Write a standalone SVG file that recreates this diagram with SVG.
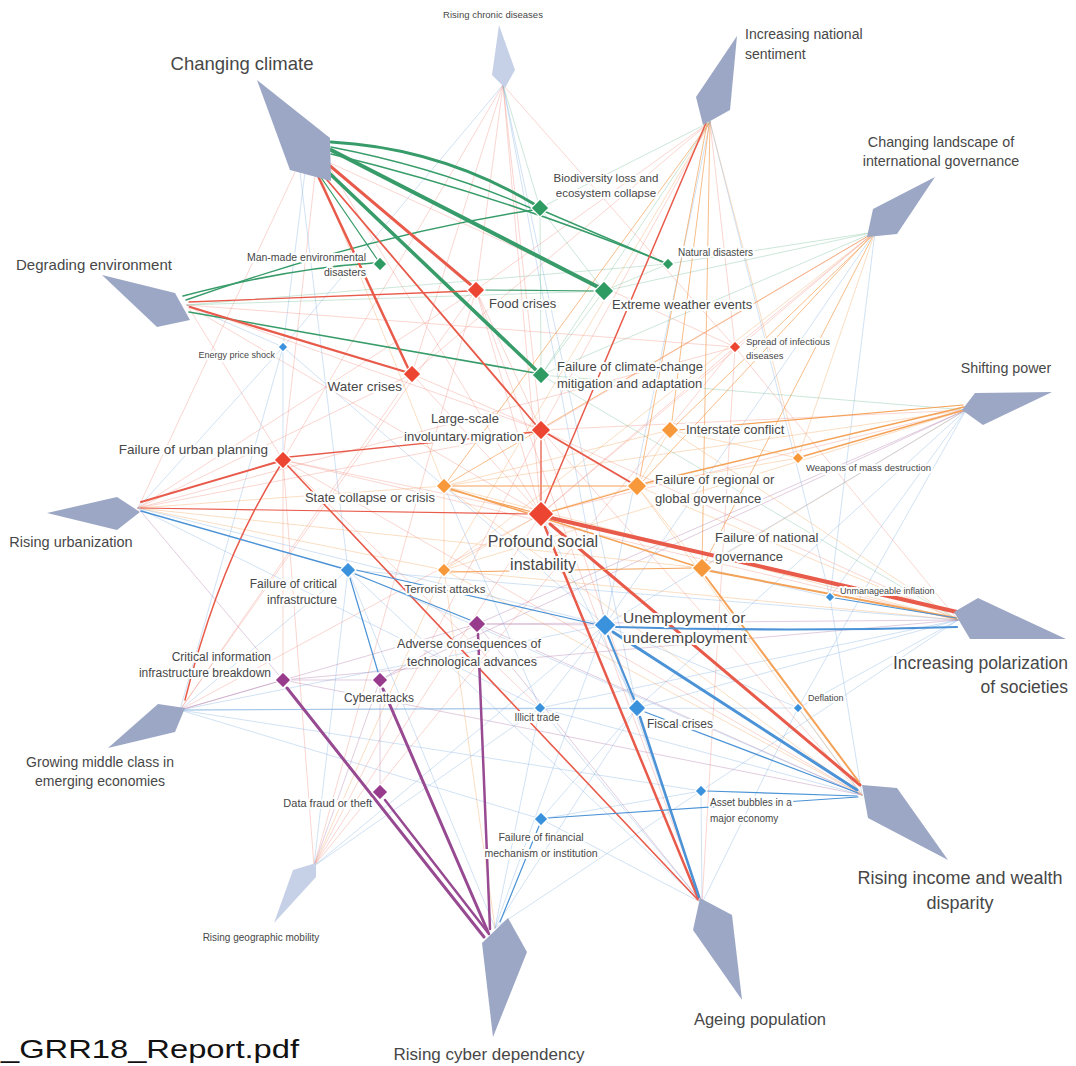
<svg xmlns="http://www.w3.org/2000/svg" width="1076" height="1066" viewBox="0 0 1076 1066">
<style>
text{font-family:"Liberation Sans",Arial,sans-serif;fill:#474747;paint-order:stroke;stroke:#fff;stroke-width:4px;stroke-linejoin:round}
.k{fill:#9ca7c5}.kl{fill:#c6d1e8}
.d{stroke:#fff;stroke-width:1.2}
.dg{fill:#2e9b63}.dr{fill:#ec4633}.do{fill:#f7983a}.db{fill:#3a91dc}.dp{fill:#983b8c}
#connectors line,#connectors path{fill:none;stroke-linecap:round}
.fr{stroke:#ef8677;stroke-width:.9;opacity:.38}
.fo{stroke:#f5a860;stroke-width:.9;opacity:.42}
.fb{stroke:#84b3e2;stroke-width:.9;opacity:.42}
.fg{stroke:#6ab98f;stroke-width:.9;opacity:.38}
.fp{stroke:#b07aaa;stroke-width:.9;opacity:.42}
.sr{stroke:#e85b4b}.so{stroke:#f4a258}.sb{stroke:#4b93d6}.sg{stroke:#379c69}.sp{stroke:#974a91}
.mo{stroke:#f4a258;stroke-width:1;opacity:.7}
.e{text-anchor:end}.m{text-anchor:middle}
</style>
<rect width="1076" height="1066" fill="#fff"/>
<g id="connectors">
<line class="fr" x1="328" y1="162" x2="735" y2="347"/>
<line class="fr" x1="328" y1="165" x2="541" y2="514"/>
<line class="fr" x1="315" y1="175" x2="283" y2="460"/>
<line class="fb" x1="305" y1="172" x2="283" y2="347"/>
<line class="fb" x1="300" y1="172" x2="348" y2="570"/>
<line class="fo" x1="320" y1="175" x2="444" y2="486"/>
<line class="fr" x1="295" y1="172" x2="138" y2="508"/>
<line class="fr" x1="503" y1="85" x2="476" y2="290"/>
<line class="fr" x1="503" y1="85" x2="412" y2="374"/>
<line class="fr" x1="503" y1="85" x2="541" y2="430"/>
<line class="fr" x1="503" y1="85" x2="541" y2="514"/>
<line class="fr" x1="503" y1="85" x2="735" y2="347"/>
<line class="fr" x1="503" y1="85" x2="283" y2="460"/>
<line class="fb" x1="503" y1="85" x2="605" y2="625"/>
<line class="fb" x1="503" y1="85" x2="637" y2="708"/>
<line class="fb" x1="503" y1="85" x2="283" y2="347"/>
<line class="fg" x1="503" y1="85" x2="540" y2="208"/>
<line class="mo" x1="710" y1="122" x2="444" y2="486"/>
<line class="fo" x1="710" y1="122" x2="444" y2="570"/>
<line class="mo" x1="710" y1="122" x2="702" y2="568"/>
<line class="fo" x1="710" y1="122" x2="798" y2="458"/>
<line class="fr" x1="710" y1="122" x2="541" y2="430"/>
<line class="fr" x1="710" y1="122" x2="735" y2="347"/>
<line class="fr" x1="710" y1="122" x2="476" y2="290"/>
<line class="fr" x1="710" y1="122" x2="412" y2="374"/>
<line class="fb" x1="710" y1="122" x2="605" y2="625"/>
<line class="fb" x1="710" y1="122" x2="830" y2="597"/>
<line class="fg" x1="710" y1="122" x2="541" y2="375"/>
<line class="fg" x1="710" y1="122" x2="540" y2="208"/>
<line class="mo" x1="875" y1="232" x2="702" y2="568"/>
<line class="fo" x1="875" y1="232" x2="798" y2="458"/>
<line class="mo" x1="875" y1="232" x2="444" y2="486"/>
<line class="fo" x1="875" y1="232" x2="444" y2="570"/>
<line class="fr" x1="875" y1="232" x2="735" y2="347"/>
<line class="fr" x1="875" y1="232" x2="541" y2="430"/>
<line class="fr" x1="875" y1="232" x2="541" y2="514"/>
<line class="fg" x1="875" y1="232" x2="604" y2="291"/>
<line class="fg" x1="875" y1="232" x2="541" y2="375"/>
<line class="fg" x1="875" y1="232" x2="668" y2="264"/>
<line class="fb" x1="875" y1="232" x2="605" y2="625"/>
<line class="fb" x1="875" y1="232" x2="830" y2="597"/>
<line class="fo" x1="966" y1="410" x2="702" y2="568"/>
<line class="fo" x1="966" y1="410" x2="444" y2="486"/>
<line class="fo" x1="966" y1="410" x2="444" y2="570"/>
<line class="fg" x1="966" y1="410" x2="541" y2="375"/>
<line class="fb" x1="966" y1="410" x2="830" y2="597"/>
<line class="fb" x1="966" y1="410" x2="605" y2="625"/>
<line class="fb" x1="966" y1="410" x2="798" y2="708"/>
<line class="fb" x1="966" y1="410" x2="637" y2="708"/>
<line class="fp" x1="966" y1="410" x2="477" y2="624"/>
<line class="fp" x1="966" y1="410" x2="380" y2="680"/>
<line class="fr" x1="966" y1="410" x2="541" y2="514"/>
<line class="fr" x1="966" y1="410" x2="541" y2="430"/>
<line class="fr" x1="958" y1="620" x2="541" y2="430"/>
<line class="fr" x1="958" y1="620" x2="283" y2="460"/>
<line class="fr" x1="958" y1="620" x2="735" y2="347"/>
<line class="fo" x1="958" y1="620" x2="444" y2="486"/>
<line class="fo" x1="958" y1="620" x2="637" y2="486"/>
<line class="fo" x1="958" y1="620" x2="444" y2="570"/>
<line class="fo" x1="958" y1="620" x2="670" y2="430"/>
<line class="fb" x1="958" y1="620" x2="637" y2="708"/>
<line class="fb" x1="958" y1="620" x2="798" y2="708"/>
<line class="fb" x1="958" y1="620" x2="540" y2="708"/>
<line class="fb" x1="958" y1="620" x2="348" y2="570"/>
<line class="fb" x1="958" y1="620" x2="701" y2="791"/>
<line class="fp" x1="958" y1="620" x2="477" y2="624"/>
<line class="fp" x1="958" y1="620" x2="283" y2="680"/>
<line class="fg" x1="958" y1="620" x2="541" y2="375"/>
<line class="fb" x1="862" y1="795" x2="798" y2="708"/>
<line class="fb" x1="862" y1="795" x2="540" y2="708"/>
<line class="fb" x1="862" y1="795" x2="830" y2="597"/>
<line class="fb" x1="862" y1="795" x2="348" y2="570"/>
<line class="fp" x1="862" y1="795" x2="477" y2="624"/>
<line class="fp" x1="862" y1="795" x2="283" y2="680"/>
<line class="fr" x1="862" y1="795" x2="541" y2="430"/>
<line class="fr" x1="862" y1="795" x2="283" y2="460"/>
<line class="fo" x1="862" y1="795" x2="444" y2="486"/>
<line class="fo" x1="862" y1="795" x2="444" y2="570"/>
<line class="fo" x1="862" y1="795" x2="637" y2="486"/>
<line class="fb" x1="702" y1="903" x2="605" y2="625"/>
<line class="fb" x1="702" y1="903" x2="701" y2="791"/>
<line class="fb" x1="702" y1="903" x2="541" y2="819"/>
<line class="fb" x1="702" y1="903" x2="798" y2="708"/>
<line class="fb" x1="702" y1="903" x2="540" y2="708"/>
<line class="fb" x1="702" y1="903" x2="348" y2="570"/>
<line class="fr" x1="702" y1="903" x2="735" y2="347"/>
<line class="fr" x1="702" y1="903" x2="541" y2="430"/>
<line class="fr" x1="702" y1="903" x2="476" y2="290"/>
<line class="fp" x1="702" y1="903" x2="477" y2="624"/>
<line class="fb" x1="495" y1="928" x2="348" y2="570"/>
<line class="fb" x1="495" y1="928" x2="540" y2="708"/>
<line class="fb" x1="495" y1="928" x2="605" y2="625"/>
<line class="fb" x1="495" y1="928" x2="701" y2="791"/>
<line class="fb" x1="495" y1="928" x2="637" y2="708"/>
<line class="fo" x1="495" y1="928" x2="444" y2="570"/>
<line class="fr" x1="314" y1="866" x2="541" y2="430"/>
<line class="fr" x1="314" y1="866" x2="735" y2="347"/>
<line class="fr" x1="314" y1="866" x2="541" y2="514"/>
<line class="fr" x1="314" y1="866" x2="283" y2="460"/>
<line class="fr" x1="314" y1="866" x2="476" y2="290"/>
<line class="fo" x1="314" y1="866" x2="444" y2="570"/>
<line class="fb" x1="314" y1="866" x2="540" y2="708"/>
<line class="fb" x1="314" y1="866" x2="348" y2="570"/>
<line class="fb" x1="314" y1="866" x2="605" y2="625"/>
<line class="fp" x1="314" y1="866" x2="380" y2="680"/>
<line class="fr" x1="180" y1="710" x2="412" y2="374"/>
<line class="fr" x1="180" y1="710" x2="541" y2="514"/>
<line class="fr" x1="180" y1="710" x2="476" y2="290"/>
<line class="fb" x1="180" y1="710" x2="348" y2="570"/>
<line class="fb" x1="180" y1="710" x2="605" y2="625"/>
<line class="fb" x1="180" y1="710" x2="637" y2="708"/>
<line class="fb" x1="180" y1="710" x2="701" y2="791"/>
<line class="fb" x1="180" y1="710" x2="540" y2="708"/>
<line class="fb" x1="180" y1="710" x2="798" y2="708"/>
<line class="fb" x1="180" y1="710" x2="541" y2="819"/>
<line class="fb" x1="180" y1="710" x2="283" y2="347"/>
<line class="fp" x1="180" y1="710" x2="283" y2="680"/>
<line class="fp" x1="180" y1="710" x2="477" y2="624"/>
<line class="fr" x1="138" y1="508" x2="412" y2="374"/>
<line class="fr" x1="138" y1="508" x2="476" y2="290"/>
<line class="fr" x1="138" y1="508" x2="541" y2="430"/>
<line class="fr" x1="138" y1="508" x2="735" y2="347"/>
<line class="fo" x1="138" y1="508" x2="444" y2="486"/>
<line class="fo" x1="138" y1="508" x2="444" y2="570"/>
<line class="fo" x1="138" y1="508" x2="702" y2="568"/>
<line class="fb" x1="138" y1="508" x2="283" y2="347"/>
<line class="fb" x1="138" y1="508" x2="605" y2="625"/>
<line class="fb" x1="138" y1="508" x2="540" y2="708"/>
<line class="fp" x1="138" y1="508" x2="283" y2="680"/>
<line class="fg" x1="187" y1="305" x2="604" y2="291"/>
<line class="fg" x1="187" y1="305" x2="668" y2="264"/>
<line class="fr" x1="187" y1="305" x2="541" y2="430"/>
<line class="fr" x1="187" y1="305" x2="541" y2="514"/>
<line class="fr" x1="187" y1="305" x2="283" y2="460"/>
<line class="fr" x1="187" y1="305" x2="735" y2="347"/>
<line class="fb" x1="187" y1="305" x2="283" y2="347"/>
<line class="fr" x1="412" y1="374" x2="541" y2="514"/>
<line class="fr" x1="476" y1="290" x2="541" y2="514"/>
<line class="fr" x1="412" y1="374" x2="541" y2="430"/>
<line class="fr" x1="476" y1="290" x2="541" y2="430"/>
<line class="fr" x1="735" y1="347" x2="541" y2="514"/>
<line class="fr" x1="283" y1="460" x2="541" y2="514"/>
<line class="fr" x1="283" y1="460" x2="283" y2="680"/>
<line class="fr" x1="283" y1="460" x2="540" y2="708"/>
<line class="fo" x1="670" y1="430" x2="637" y2="486"/>
<line class="fo" x1="670" y1="430" x2="444" y2="486"/>
<line class="fo" x1="444" y1="570" x2="444" y2="486"/>
<line class="fo" x1="798" y1="458" x2="670" y2="430"/>
<line class="fo" x1="798" y1="458" x2="637" y2="486"/>
<line class="fo" x1="702" y1="568" x2="637" y2="486"/>
<line class="fo" x1="444" y1="570" x2="541" y2="514"/>
<line class="fo" x1="637" y1="486" x2="541" y2="514"/>
<line class="fb" x1="283" y1="347" x2="283" y2="460"/>
<line class="fb" x1="283" y1="347" x2="605" y2="625"/>
<line class="fb" x1="637" y1="708" x2="541" y2="514"/>
<line class="fb" x1="541" y1="819" x2="637" y2="708"/>
<line class="fb" x1="701" y1="791" x2="541" y2="819"/>
<line class="fb" x1="540" y1="708" x2="605" y2="625"/>
<line class="fb" x1="830" y1="597" x2="702" y2="568"/>
<line class="fb" x1="798" y1="708" x2="605" y2="625"/>
<line class="fb" x1="540" y1="708" x2="444" y2="486"/>
<line class="fp" x1="380" y1="680" x2="283" y2="680"/>
<line class="fp" x1="380" y1="680" x2="380" y2="792"/>
<line class="fp" x1="477" y1="624" x2="605" y2="625"/>
<line class="fp" x1="477" y1="624" x2="380" y2="680"/>
<line class="fg" x1="604" y1="291" x2="541" y2="375"/>
<line class="fg" x1="540" y1="208" x2="604" y2="291"/>
<line class="fg" x1="540" y1="208" x2="541" y2="375"/>
<line class="fg" x1="668" y1="264" x2="604" y2="291"/>
<path class="sg" stroke-width="3" d="M331,142 Q440,148 534,204"/>
<path class="sg" stroke-width="1.4" d="M331,147 Q440,168 533,209"/>
<path class="sg" stroke-width="4" d="M331,150 L598,287"/>
<path class="sg" stroke-width="1.5" d="M331,154 Q500,195 663,262"/>
<path class="sg" stroke-width="3.5" d="M326,170 L536,370"/>
<path class="sg" stroke-width="1.2" d="M318,173 L377,259"/>
<path class="sg" stroke-width="1.6" d="M183,296 Q290,268 374,263"/>
<path class="sg" stroke-width="1.4" d="M186,300 Q370,235 533,210"/>
<path class="sg" stroke-width="1.6" d="M189,312 L535,373"/>
<path class="sg" stroke-width="1.5" d="M546,212 L663,262"/>
<path class="sg" stroke-width="1.2" d="M483,290 L597,291"/>
<path class="sr" stroke-width="3" d="M329,165 L471,285"/>
<path class="sr" stroke-width="2.5" d="M318,176 L408,368"/>
<path class="sr" stroke-width="1.8" d="M322,174 L536,425"/>
<path class="sr" stroke-width="2.2" d="M190,307 L406,372"/>
<path class="sr" stroke-width="1.3" d="M189,302 L470,291"/>
<path class="sr" stroke-width="2" d="M277,462 L141,502"/>
<path class="sr" stroke-width="1.5" d="M280,466 Q220,560 185,700"/>
<path class="sr" stroke-width="1.3" d="M289,457 L535,432"/>
<path class="sr" stroke-width="1.6" d="M287,465 L698,900"/>
<path class="sr" stroke-width="1.2" d="M141,508 L528,514"/>
<path class="sr" stroke-width="1.5" d="M706,123 L545,503"/>
<path class="sr" stroke-width="4" d="M551,518 L957,612"/>
<path class="sr" stroke-width="3" d="M550,524 L860,785"/>
<path class="sr" stroke-width="2.5" d="M545,527 L698,898"/>
<path class="sr" stroke-width="2" d="M548,434 L630,482"/>
<path class="sr" stroke-width="1.3" d="M541,440 L541,502"/>
<path class="so" stroke-width="2" d="M710,571 L956,618"/>
<path class="so" stroke-width="2" d="M706,577 L859,782"/>
<path class="so" stroke-width="1.5" d="M646,483 L964,407"/>
<path class="so" stroke-width="1.2" d="M678,430 L963,405"/>
<path class="so" stroke-width="1.5" d="M804,456 L964,410"/>
<path class="so" stroke-width="1.5" d="M451,489 L695,566"/>
<path class="so" stroke-width="1.2" d="M452,486 L628,486"/>
<path class="so" stroke-width="1.2" d="M451,490 L532,512"/>
<path class="so" stroke-width="1.2" d="M630,489 L550,512"/>
<path class="mo" d="M709,124 L672,421"/>
<path class="mo" d="M707,124 L640,477"/>
<path class="mo" d="M872,236 L676,425"/>
<path class="mo" d="M871,236 L643,481"/>
<path class="so" stroke-width="1" d="M450,572 L694,568"/>
<path class="sb" stroke-width="3" d="M613,632 L857,790"/>
<path class="sb" stroke-width="2.2" d="M616,627 Q790,632 957,627"/>
<path class="sb" stroke-width="2" d="M608,636 L634,699"/>
<path class="sb" stroke-width="2.5" d="M640,717 L699,897"/>
<path class="sb" stroke-width="1.2" d="M645,712 L858,793"/>
<path class="sb" stroke-width="1.5" d="M141,511 L341,568"/>
<path class="sb" stroke-width="1.2" d="M350,578 L378,672"/>
<path class="sb" stroke-width="1.2" d="M355,574 L470,620"/>
<path class="sb" stroke-width="1.2" d="M356,570 L594,624"/>
<path class="sb" stroke-width="1.2" d="M548,818 L858,797"/>
<path class="sb" stroke-width="1.2" d="M707,791 L857,796"/>
<path class="sb" stroke-width="1.2" d="M835,598 L956,618"/>
<path class="sb" stroke-width="1.2" d="M539,826 L500,922"/>
<path class="sp" stroke-width="3" d="M287,688 L484,937"/>
<path class="sp" stroke-width="3" d="M383,689 L488,932"/>
<path class="sp" stroke-width="2.5" d="M385,800 L489,934"/>
<path class="sp" stroke-width="2.5" d="M478,634 L490,929"/>
</g>

<g id="trend-changing-climate"><polygon class="k" points="257,80 330,138 331,181 290,170"/><text x="242" y="70" class="m" font-size="18.5">Changing climate</text></g>
<g id="trend-rising-chronic-diseases"><polygon class="kl" points="499,25 515,70 505,88 492,75"/><text x="493" y="18" class="m" font-size="9.5">Rising chronic diseases</text></g>
<g id="trend-national-sentiment"><polygon class="k" points="737,36 730,110 703,125 696,97"/><text x="745" y="39" font-size="14">Increasing national</text><text x="745" y="59" font-size="14">sentiment</text></g>
<g id="trend-intl-governance"><polygon class="k" points="935,177 897,234 867,237 873,209"/><text x="941" y="147" class="m" font-size="14.3">Changing landscape of</text><text x="941" y="166" class="m" font-size="14.3">international governance</text></g>
<g id="trend-shifting-power"><polygon class="k" points="1052,392 983,425 962,410 975,393"/><text x="1006" y="373" class="m" font-size="14.3">Shifting power</text></g>
<g id="trend-polarization"><polygon class="k" points="978,598 1066,639 970,639 954,612"/><text x="1068" y="669" class="e" font-size="17.5">Increasing polarization</text><text x="1068" y="693" class="e" font-size="17.5">of societies</text></g>
<g id="trend-income-disparity"><polygon class="k" points="862,785 897,788 948,860 868,818"/><text x="960" y="884" class="m" font-size="18">Rising income and wealth</text><text x="960" y="909" class="m" font-size="18">disparity</text></g>
<g id="trend-ageing"><polygon class="k" points="700,898 732,915 742,1000 693,930"/><text x="760" y="1025" class="m" font-size="16.5">Ageing population</text></g>
<g id="trend-cyber-dependency"><polygon class="k" points="508,918 527,952 493,1037 482,943"/><text x="489" y="1060" class="m" font-size="17">Rising cyber dependency</text></g>
<g id="trend-geographic-mobility"><polygon class="kl" points="316,863 316,877 274,923 293,870"/><text x="261" y="941" class="m" font-size="10">Rising geographic mobility</text></g>
<g id="trend-middle-class"><polygon class="k" points="158,704 185,708 175,732 108,748"/><text x="100" y="767" class="m" font-size="14">Growing middle class in</text><text x="100" y="786" class="m" font-size="14">emerging economies</text></g>
<g id="trend-urbanization"><polygon class="k" points="47,513 117,497 140,512 117,530"/><text x="71" y="547" class="m" font-size="14.5">Rising urbanization</text></g>
<g id="trend-degrading-environment"><polygon class="k" points="102,275 175,293 190,320 157,327"/><text x="94" y="270" class="m" font-size="15">Degrading environment</text></g>

<g id="risk-biodiversity"><polygon class="d dg" points="540,199 549,208 540,217 531,208"/><text x="606" y="182" class="m" font-size="11.5">Biodiversity loss and</text><text x="606" y="197" class="m" font-size="11.5">ecosystem collapse</text></g>
<g id="risk-natural-disasters"><polygon class="d dg" points="668,258 674,264 668,270 662,264"/><text x="678" y="256" font-size="10">Natural disasters</text></g>
<g id="risk-man-made"><polygon class="d dg" points="380,257 387,264 380,271 373,264"/><text x="366" y="261" class="e" font-size="10.5">Man-made environmental</text><text x="366" y="276" class="e" font-size="10.5">disasters</text></g>
<g id="risk-food-crises"><polygon class="d dr" points="476,281 485,290 476,299 467,290"/><text x="489" y="308" font-size="13">Food crises</text></g>
<g id="risk-extreme-weather"><polygon class="d dg" points="604,281 614,291 604,301 594,291"/><text x="612" y="309" font-size="13">Extreme weather events</text></g>
<g id="risk-energy-price"><polygon class="d db" points="283,342 288,347 283,352 278,347"/><text x="275" y="358" class="e" font-size="9">Energy price shock</text></g>
<g id="risk-infectious"><polygon class="d dr" points="735,341 741,347 735,353 729,347"/><text x="746" y="345" font-size="9.5">Spread of infectious</text><text x="746" y="359" font-size="9.5">diseases</text></g>
<g id="risk-climate-failure"><polygon class="d dg" points="541,366 550,375 541,384 532,375"/><text x="557" y="371" font-size="13">Failure of climate-change</text><text x="557" y="388" font-size="13">mitigation and adaptation</text></g>
<g id="risk-water"><polygon class="d dr" points="412,365 421,374 412,383 403,374"/><text x="402" y="391" class="e" font-size="13.5">Water crises</text></g>
<g id="risk-migration"><polygon class="d dr" points="541,420 551,430 541,440 531,430"/><text x="465" y="423" class="m" font-size="13">Large-scale</text><text x="464" y="441" class="m" font-size="13">involuntary migration</text></g>
<g id="risk-interstate"><polygon class="d do" points="670,421 679,430 670,439 661,430"/><text x="686" y="434" font-size="13">Interstate conflict</text></g>
<g id="risk-urban-planning"><polygon class="d dr" points="283,451 292,460 283,469 274,460"/><text x="268" y="454" class="e" font-size="13.5">Failure of urban planning</text></g>
<g id="risk-wmd"><polygon class="d do" points="798,452 804,458 798,464 792,458"/><text x="806" y="471" font-size="9.5">Weapons of mass destruction</text></g>
<g id="risk-state-collapse"><polygon class="d do" points="444,478 452,486 444,494 436,486"/><text x="435" y="502" class="e" font-size="13">State collapse or crisis</text></g>
<g id="risk-regional-governance"><polygon class="d do" points="637,476 647,486 637,496 627,486"/><text x="655" y="484" font-size="13">Failure of regional or</text><text x="655" y="503" font-size="13">global governance</text></g>
<g id="risk-social-instability"><polygon class="d dr" points="541,501 554,514 541,527 528,514"/><text x="543" y="547" class="m" font-size="16">Profound social</text><text x="543" y="570" class="m" font-size="16">instability</text></g>
<g id="risk-national-governance"><polygon class="d do" points="702,558 712,568 702,578 692,568"/><text x="715" y="542" font-size="13">Failure of national</text><text x="715" y="561" font-size="13">governance</text></g>
<g id="risk-critical-infrastructure"><polygon class="d db" points="348,562 356,570 348,578 340,570"/><text x="337" y="588" class="e" font-size="12">Failure of critical</text><text x="337" y="604" class="e" font-size="12">infrastructure</text></g>
<g id="risk-terrorist"><polygon class="d do" points="444,563 451,570 444,577 437,570"/><text x="445" y="593" class="m" font-size="11.5">Terrorist attacks</text></g>
<g id="risk-inflation"><polygon class="d db" points="830,592 835,597 830,602 825,597"/><text x="840" y="594" font-size="9">Unmanageable inflation</text></g>
<g id="risk-unemployment"><polygon class="d db" points="605,614 616,625 605,636 594,625"/><text x="623" y="623" font-size="15.5">Unemployment or</text><text x="623" y="643" font-size="15.5">underemployment</text></g>
<g id="risk-adverse-tech"><polygon class="d dp" points="477,615 486,624 477,633 468,624"/><text x="469" y="648" class="m" font-size="12.5">Adverse consequences of</text><text x="472" y="666" class="m" font-size="12.5">technological advances</text></g>
<g id="risk-critical-info"><polygon class="d dp" points="283,672 291,680 283,688 275,680"/><text x="271" y="661" class="e" font-size="12">Critical information</text><text x="271" y="677" class="e" font-size="12">infrastructure breakdown</text></g>
<g id="risk-cyberattacks"><polygon class="d dp" points="380,672 388,680 380,688 372,680"/><text x="379" y="702" class="m" font-size="12">Cyberattacks</text></g>
<g id="risk-illicit-trade"><polygon class="d db" points="540,702 546,708 540,714 534,708"/><text x="537" y="721" class="m" font-size="10">Illicit trade</text></g>
<g id="risk-fiscal"><polygon class="d db" points="637,699 646,708 637,717 628,708"/><text x="647" y="728" font-size="12">Fiscal crises</text></g>
<g id="risk-deflation"><polygon class="d db" points="798,703 803,708 798,713 793,708"/><text x="808" y="701" font-size="9">Deflation</text></g>
<g id="risk-data-fraud"><polygon class="d dp" points="380,784 388,792 380,800 372,792"/><text x="372" y="807" class="e" font-size="11">Data fraud or theft</text></g>
<g id="risk-asset-bubbles"><polygon class="d db" points="701,785 707,791 701,797 695,791"/><text x="710" y="806" font-size="10">Asset bubbles in a</text><text x="710" y="822" font-size="10">major economy</text></g>
<g id="risk-financial-failure"><polygon class="d db" points="541,812 548,819 541,826 534,819"/><text x="541" y="841" class="m" font-size="10.5">Failure of financial</text><text x="541" y="857" class="m" font-size="10.5">mechanism or institution</text></g>

<text x="1" y="1058" font-size="26" style="fill:#111;stroke:none" textLength="298" lengthAdjust="spacingAndGlyphs">_GRR18_Report.pdf</text>
</svg>
